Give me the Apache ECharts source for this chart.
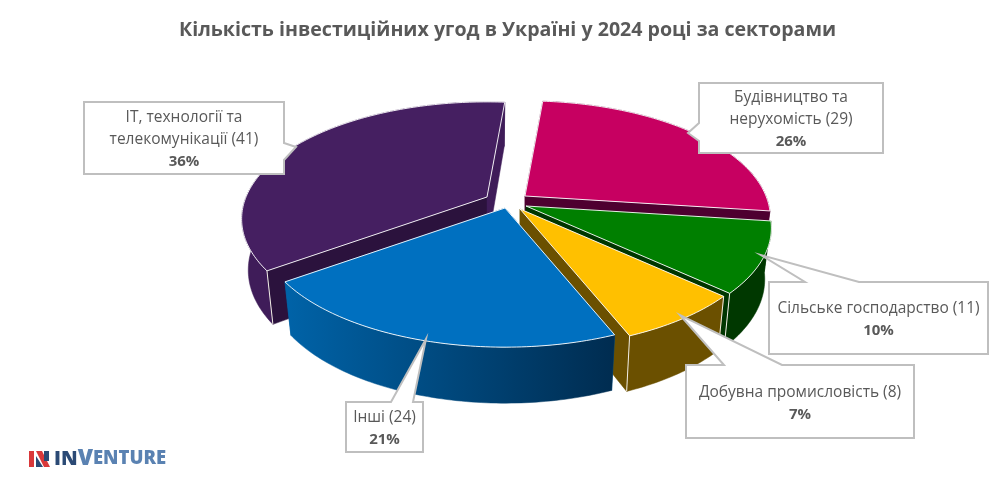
<!DOCTYPE html>
<html><head><meta charset="utf-8">
<style>html,body{margin:0;padding:0;background:#fff}#c{width:1008px;height:493px}</style>
<script src="https://cdn.jsdelivr.net/npm/echarts@6/dist/echarts.min.js"></script>
</head><body><div id="c"></div>
<script>
const chartTitle = 'Кількість інвестиційних угод в Україні у 2024 році за секторами';
const categories = ['ІТ, технології та\nтелекомунікації', 'Будівництво та\nнерухомість', 'Сільське господарство', 'Добувна промисловість', 'Інші'];
const counts = [41, 29, 11, 8, 24];
const percents = [36, 26, 10, 7, 21];

/* styles */
const topColors = ['#451F61', '#C70061', '#007F00', '#FFC000', '#0070C0'];
const wallColors = ['#2B123D', '#4E0030', '#003600', '#6B5000', '#0060A0'];
const outerColors = ['#3F1C59', '#4E0030', '#003800', '#6B5000', null];
/* layout */
const FONT = '"Open Sans"';
const CENTER = [508, 201];
const RX = 241, RY = 113, PERSP = 0.188;
const FLOOR = 0.973, DEPTH = 50, DEPTH_V = 6;
const START_ANGLE = -125.6;
const shifts = [[-21, -4], [17, -5], [18, 5], [12, 8], [-3, 7]];
const cornerLines = [[1, 0], [0, 0], [0, 1], [1, 1], [0, 0]];
const boxes = [[84, 102, 284, 174], [699, 83, 883, 153], [769, 282, 988, 354], [686, 365, 914, 438], [346, 402, 423, 452]];
const notches = [
  ['r', [[284, 143], [296, 147], [284, 160]]],
  ['l', [[699, 141], [688, 133], [699, 123]]],
  ['t', [[805, 282], [761, 255], [859, 282]]],
  ['t', [[724, 365], [680, 315], [782, 365]]],
  ['t', [[391, 402], [426, 339], [413, 402]]]
];

const total = counts.reduce((a, b) => a + b, 0);
const angles = []; { let a = START_ANGLE; counts.forEach(v => { angles.push([a, a + v / total * 360]); a += v / total * 360; }); }

function project(i, deg, r) {
  const t = deg * Math.PI / 180, u = r * Math.sin(t), v = -r * Math.cos(t), s = 1 / (1 - PERSP * v);
  const ox = CENTER[0] + shifts[i][0], oy = CENTER[1] + shifts[i][1];
  const x = ox + RX * u * s, y = oy + RY * v * s;
  return { top: [x, y], bottom: [ox + (x - ox) * FLOOR, y + DEPTH + DEPTH_V * v] };
}
function arc(i) {
  const [a0, a1] = angles[i], n = Math.ceil(a1 - a0), out = [];
  for (let k = 0; k <= n; k++) out.push(project(i, a0 + (a1 - a0) * k / n, 1));
  return out;
}
function renderSlice(params, api) {
  const i = params.dataIndex; api.value(0);
  const pts = arc(i), apex = project(i, 0, 0);
  const first = pts[0], last = pts[pts.length - 1], kids = [];
  const poly = (points, fill, stroke) => ({ type: 'polygon', shape: { points }, silent: true, style: { fill, stroke: stroke || fill, lineWidth: stroke ? 1 : 0.5 } });
  kids.push(poly([apex.top, first.top, first.bottom, apex.bottom], wallColors[i]));
  kids.push(poly([apex.top, last.top, last.bottom, apex.bottom], i === 0 ? outerColors[0] : wallColors[i]));
  const outerFill = outerColors[i] || new echarts.graphic.LinearGradient(0, 0, 1, 0, [{ offset: 0, color: '#0063A8' }, { offset: 1, color: '#002C50' }]);
  kids.push(poly(pts.map(p => p.top).concat(pts.map(p => p.bottom).reverse()), outerFill));
  const line = (a, b) => kids.push({ type: 'line', silent: true, shape: { x1: a[0], y1: a[1], x2: b[0], y2: b[1] }, style: { stroke: '#F2EEE6', lineWidth: 1 } });
  if (cornerLines[i][0]) line(first.top, first.bottom);
  if (cornerLines[i][1]) line(last.top, last.bottom);
  kids.push({ type: 'polygon', silent: true, shape: { points: [apex.top].concat(pts.map(p => p.top)) }, style: { fill: topColors[i], stroke: 'rgba(255,255,255,0.9)', lineWidth: 1 } });
  return { type: 'group', children: kids };
}
function renderCallout(params, api) {
  const i = params.dataIndex, [x0, y0, x1, y1] = boxes[i], [side, n] = notches[i];
  const pts = [[x0, y0]];
  if (side === 't') pts.push(...n);
  pts.push([x1, y0]);
  if (side === 'r') pts.push(...n);
  pts.push([x1, y1], [x0, y1]);
  if (side === 'l') pts.push(...n);
  const label = categories[i] + ' (' + api.value(0) + ')';
  return { type: 'group', children: [
    { type: 'polygon', silent: true, shape: { points: pts }, style: { fill: '#fff', stroke: '#BFBFBF', lineWidth: 2 } },
    { type: 'text', silent: true, style: {
      x: (x0 + x1) / 2, y: (y0 + y1) / 2 + 2, align: 'center', verticalAlign: 'middle',
      text: label.split('\n').map(l => '{a|' + l + '}').join('\n') + '\n{b|' + percents[i] + '%}',
      rich: { a: { font: '15.5px ' + FONT, fill: '#595959', lineHeight: 22, align: 'center' }, b: { font: 'bold 15px ' + FONT, fill: '#595959', lineHeight: 22, align: 'center' } }
    } }
  ] };
}
const chart = echarts.init(document.getElementById('c'), null, { renderer: 'canvas' });
chart.setOption({
  animation: false, backgroundColor: '#fff',
  title: { text: chartTitle, left: 174, top: 15, textStyle: { fontFamily: FONT, fontSize: 19.6, fontWeight: 'bold', color: '#595959' } },
  series: [
    { type: 'custom', coordinateSystem: 'none', silent: true, z: 2, renderItem: renderSlice, data: counts.map(v => [v]) },
    { type: 'custom', coordinateSystem: 'none', silent: true, z: 3, renderItem: renderCallout, data: counts.map(v => [v]) }
  ],
  graphic: [
    { type: 'rect', silent: true, shape: { x: 29, y: 451, width: 5, height: 16 }, style: { fill: '#D9383A' } },
    { type: 'polygon', silent: true, shape: { points: [[36, 451], [42, 451], [50, 467], [44, 467]] }, style: { fill: '#D9383A' } },
    { type: 'polygon', silent: true, shape: { points: [[36, 456], [43, 467], [36, 467]] }, style: { fill: '#2B4A75' } },
    { type: 'rect', silent: true, shape: { x: 44, y: 451, width: 5, height: 10 }, style: { fill: '#2B4A75' } },
    { type: 'text', silent: true, style: { x: 54, y: 459, verticalAlign: 'middle', text: '{a|IN}{b|V}{c|ENTURE}', rich: {
      a: { font: '800 20px ' + FONT, fill: '#2B4A75' }, b: { font: '800 22px ' + FONT, fill: '#5A82B2' }, c: { font: '800 18.5px ' + FONT, fill: '#5A82B2' } } } }
  ]
});
</script></body></html>
